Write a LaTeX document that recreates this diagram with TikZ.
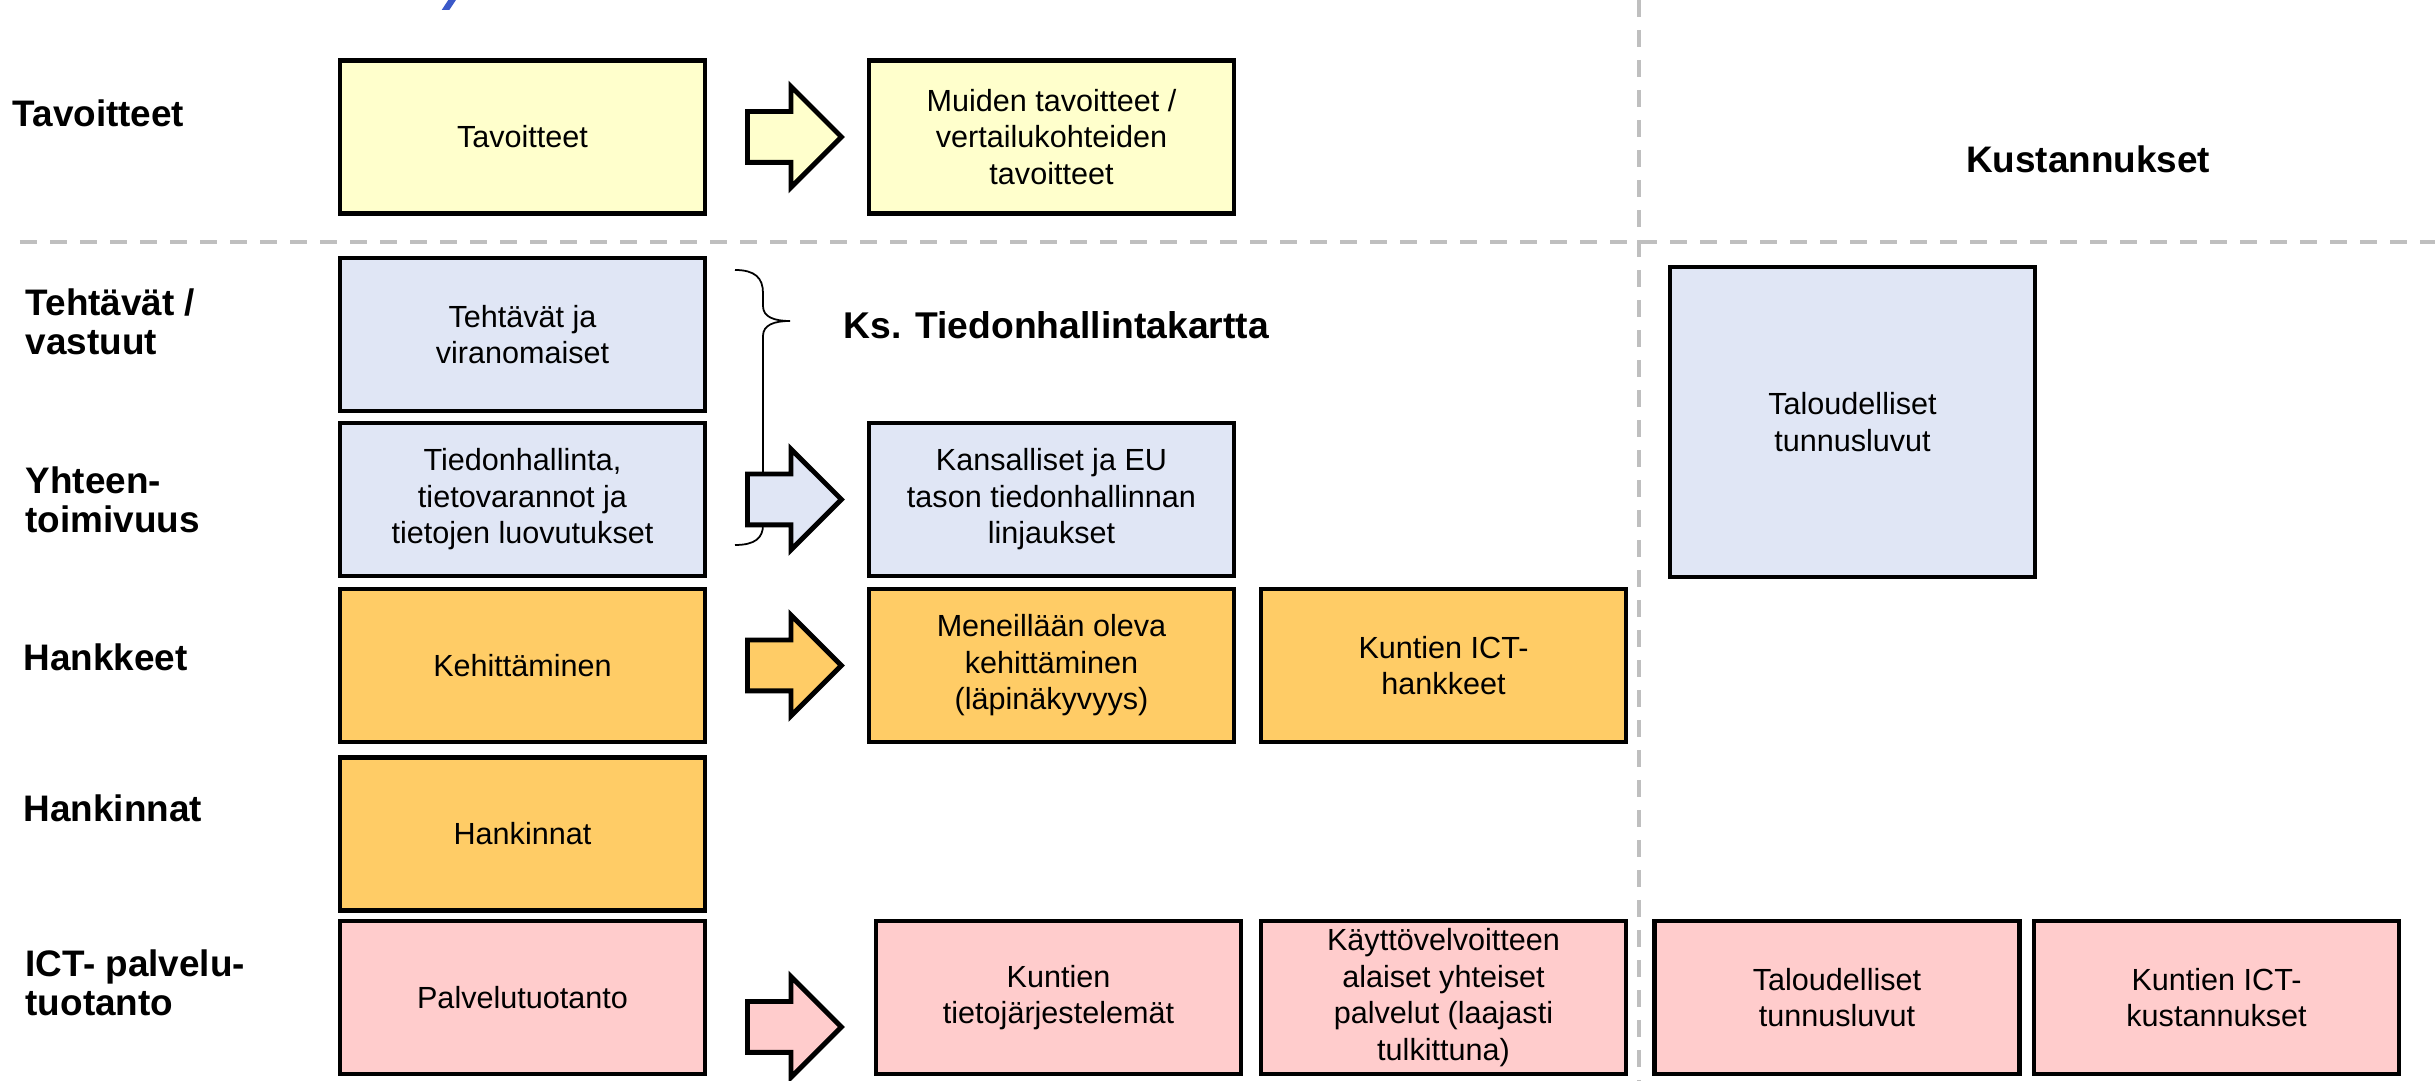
\documentclass[tikz,border=0pt]{standalone}
\usepackage{fontspec}
\setmainfont{Liberation Sans}
\usetikzlibrary{shapes.arrows}
\definecolor{tavoite}{RGB}{255,255,204}
\definecolor{tehtava}{RGB}{224,230,245}
\definecolor{hanke}{RGB}{255,204,102}
\definecolor{palvelu}{RGB}{255,204,204}
\definecolor{viiva}{RGB}{191,191,191}
\definecolor{otsikko}{RGB}{59,89,200}

\tikzset{
  laatikko/.style={draw=black, line width=1.4pt, minimum width=3.65cm, minimum height=1.53cm,
    align=center, inner sep=1pt, font=\fontsize{8.7}{10.4}\selectfont},
  nuoli/.style={single arrow, draw=black, line width=1.4pt, minimum height=0.94cm,
    inner xsep=0pt, inner ysep=0.23cm, single arrow head extend=0.25cm, anchor=tail},
  rivi/.style={anchor=west, align=left, inner sep=0pt, font=\fontsize{10.5}{11.2}\selectfont\bfseries},
  raja/.style={viiva, line width=1.1pt, dash pattern=on 0.17cm off 0.13cm},
}

\begin{document}
\begin{tikzpicture}

	\useasboundingbox (0,0) rectangle (24.35,-10.81);

	% jakoviivat
	\draw[raja] (0.2,-2.42) -- (24.35,-2.42);
	\draw[raja] (16.39,0) -- (16.39,-10.81);

	% otsikon pala ylhaalla
	\fill[otsikko] (4.417,-0.10) -- (4.493,-0.10) -- (4.56,0) -- (4.483,0) -- cycle;

	% rivien otsikot
	\node[rivi] (lTav) at (0.12,-1.13) {Tavoitteet};
	\node[rivi] (lTeh) at (0.25,-3.22) {Tehtävät /\\vastuut};
	\node[rivi] (lYht) at (0.25,-5.00) {Yhteen-\\toimivuus};
	\node[rivi] (lHankk) at (0.23,-6.57) {Hankkeet};
	\node[rivi] (lHankin) at (0.23,-8.08) {Hankinnat};
	\node[rivi] (lIct) at (0.25,-9.83) {ICT- palvelu-\\tuotanto};
	\node[rivi, anchor=center] (lKust) at (20.88,-1.59) {Kustannukset};

	% laatikot
	\node[laatikko, fill=tavoite] (tav) at (5.225,-1.37) {Tavoitteet};
	\node[laatikko, fill=tavoite] (muiden) at (10.515,-1.37) {Muiden tavoitteet /\\vertailukohteiden\\tavoitteet};

	\node[laatikko, fill=tehtava] (teht) at (5.225,-3.345) {Tehtävät ja\\viranomaiset};
	\node[laatikko, fill=tehtava] (tiedon) at (5.225,-4.995) {Tiedonhallinta,\\tietovarannot ja\\tietojen luovutukset};
	\node[laatikko, fill=tehtava] (kans) at (10.515,-4.995) {Kansalliset ja EU\\tason tiedonhallinnan\\linjaukset};
	\node[laatikko, fill=tehtava, minimum height=3.10cm] (talSin) at (18.525,-4.22) {Taloudelliset\\tunnusluvut};

	\node[laatikko, fill=hanke] (kehit) at (5.225,-6.655) {Kehittäminen};
	\node[laatikko, fill=hanke] (menei) at (10.515,-6.655) {Meneillään oleva\\kehittäminen\\(läpinäkyvyys)};
	\node[laatikko, fill=hanke] (ictHank) at (14.435,-6.655) {Kuntien ICT-\\hankkeet};
	\node[laatikko, fill=hanke] (hankin) at (5.225,-8.34) {Hankinnat};

	\node[laatikko, fill=palvelu] (palv) at (5.225,-9.975) {Palvelutuotanto};
	\node[laatikko, fill=palvelu] (tietoj) at (10.585,-9.975) {Kuntien\\tietojärjestelemät};
	\node[laatikko, fill=palvelu] (kaytto) at (14.435,-9.975) {Käyttövelvoitteen\\alaiset yhteiset\\palvelut (laajasti\\tulkittuna)};
	\node[laatikko, fill=palvelu] (talPun) at (18.37,-9.975) {Taloudelliset\\tunnusluvut};
	\node[laatikko, fill=palvelu] (ictKust) at (22.165,-9.975) {Kuntien ICT-\\kustannukset};

	% aaltosulje
	\draw[black, line width=0.5pt] (7.35,-2.70) .. controls (7.55,-2.70) and (7.63,-2.78) .. (7.63,-2.93)
		-- (7.63,-3.06) .. controls (7.63,-3.17) and (7.74,-3.21) .. (7.90,-3.21)
		.. controls (7.74,-3.21) and (7.63,-3.25) .. (7.63,-3.36)
		-- (7.63,-5.25) .. controls (7.63,-5.38) and (7.55,-5.45) .. (7.35,-5.45);
	\node[rivi, font=\fontsize{10.6}{11}\selectfont\bfseries] (ks) at (8.43,-3.25) {Ks. Tiedonhallintakartta};

	% nuolet
	\foreach \n/\y/\c in {1/-1.37/tavoite, 2/-4.995/tehtava, 3/-6.655/hanke, 4/-10.27/palvelu}
		\node[nuoli, fill=\c] (nuoli\n) at (7.45,\y) {};

\end{tikzpicture}
\end{document}
